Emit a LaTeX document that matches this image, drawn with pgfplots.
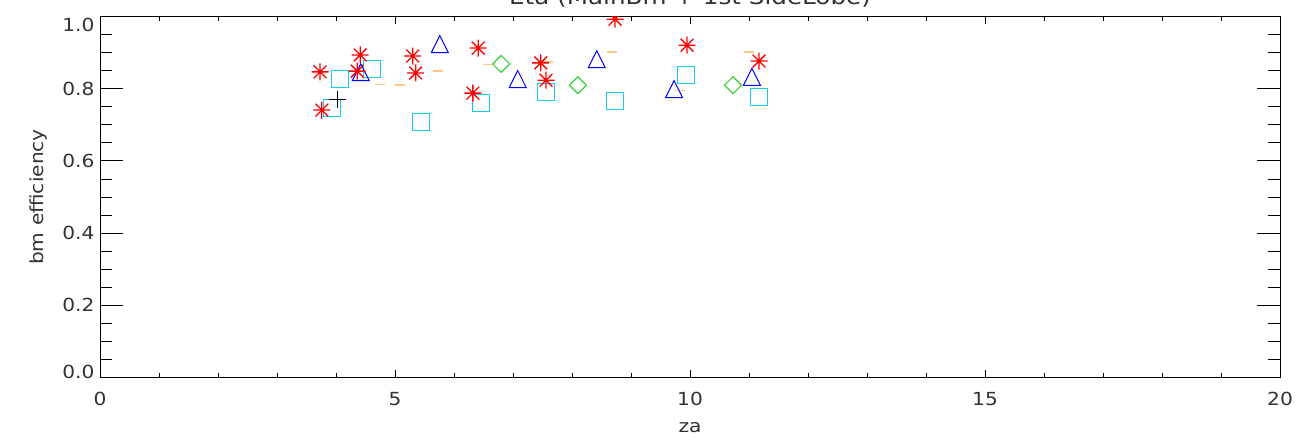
\documentclass[border=0pt]{standalone}
\usepackage{pgfplots}
\pgfplotsset{compat=1.18}
\usepackage{fontspec}
\setmainfont{DejaVu Sans}[FakeStretch=1.12]

\definecolor{idlred}{RGB}{255,0,0}
\definecolor{idlblue}{RGB}{0,0,255}
\definecolor{idlcyan}{RGB}{20,205,235}
\definecolor{idlgreen}{RGB}{30,205,30}
\definecolor{idlorange}{RGB}{255,200,130}
\definecolor{txt}{RGB}{50,50,50}

\pgfdeclareplotmark{idlstar}{%
  \pgfpathmoveto{\pgfqpoint{-\pgfplotmarksize}{0pt}}\pgfpathlineto{\pgfqpoint{\pgfplotmarksize}{0pt}}%
  \pgfpathmoveto{\pgfqpoint{0pt}{-\pgfplotmarksize}}\pgfpathlineto{\pgfqpoint{0pt}{\pgfplotmarksize}}%
  \pgfpathmoveto{\pgfqpoint{-0.75\pgfplotmarksize}{-0.75\pgfplotmarksize}}\pgfpathlineto{\pgfqpoint{0.75\pgfplotmarksize}{0.75\pgfplotmarksize}}%
  \pgfpathmoveto{\pgfqpoint{-0.75\pgfplotmarksize}{0.75\pgfplotmarksize}}\pgfpathlineto{\pgfqpoint{0.75\pgfplotmarksize}{-0.75\pgfplotmarksize}}%
  \pgfusepathqstroke}
\pgfdeclareplotmark{idltri}{%
  \pgfpathmoveto{\pgfqpoint{-\pgfplotmarksize}{-\pgfplotmarksize}}%
  \pgfpathlineto{\pgfqpoint{0pt}{\pgfplotmarksize}}%
  \pgfpathlineto{\pgfqpoint{\pgfplotmarksize}{-\pgfplotmarksize}}%
  \pgfpathclose\pgfusepathqstroke}
\pgfdeclareplotmark{idldia}{%
  \pgfpathmoveto{\pgfqpoint{-\pgfplotmarksize}{0pt}}%
  \pgfpathlineto{\pgfqpoint{0pt}{\pgfplotmarksize}}%
  \pgfpathlineto{\pgfqpoint{\pgfplotmarksize}{0pt}}%
  \pgfpathlineto{\pgfqpoint{0pt}{-\pgfplotmarksize}}%
  \pgfpathclose\pgfusepathqstroke}

\pgfplotsset{
  idlbase/.style={
    scale only axis, width=1180bp, height=360.6bp,
    xmin=0, xmax=20, ymin=0, ymax=1,
    tick align=inside,
    axis line style={black, line width=0.9bp},
    every tick/.style={black, line width=0.9bp},
    tick label style={font=\fontsize{18bp}{21bp}\selectfont, text=txt},
    label style={font=\fontsize{18bp}{21bp}\selectfont, text=txt},
    clip mode=individual,
    clip marker paths=true,
  }
}

\begin{document}
\begin{tikzpicture}
% axis carrying the y ticks
\begin{axis}[idlbase,
  xtick=\empty,
  ytick={0,0.2,0.4,0.6,0.8,1.0},
  yticklabels={\raisebox{5.6bp}[\height][\depth]{0.0},0.2,0.4,0.6,0.8,\raisebox{-8bp}[\height][\depth]{1.0}},
  minor y tick num=3,
  ytick pos=both, yticklabel pos=left,
  major tick length=23bp, minor tick length=12bp,
  yticklabel style={xshift=-2bp},
  ylabel={bm efficiency},
  ylabel style={at={(axis description cs:-0.0483,0.5)}, anchor=base, rotate=0},
]
\end{axis}
% axis carrying the x ticks and the data
\begin{axis}[idlbase, name=B,
  ytick=\empty,
  xtick={0,5,10,15,20},
  xticklabels={0,5,10,15,20},
  minor x tick num=4,
  xtick pos=both, xticklabel pos=bottom,
  major tick length=7bp, minor tick length=4bp,
  xticklabel style={yshift=-11.7bp},
  xlabel={za},
  xlabel style={at={(axis description cs:0.5,-0.1517)}, anchor=base},
  title={Eta (MainBm + 1st SideLobe)},
  title style={at={(axis description cs:0.5,1.0186)}, anchor=base,
    font=\fontsize{22bp}{26bp}\selectfont, text=txt},
]
\addplot[only marks, mark=-, mark size=5bp, idlorange, line width=1.5bp] table {
4.75 0.812
5.08 0.810
5.73 0.850
6.58 0.868
7.59 0.874
8.68 0.902
9.83 0.796
11.00 0.902
};
\addplot[only marks, mark=square, mark size=8.5bp, idlcyan, line width=1.1bp] table {
3.93 0.746
4.07 0.827
4.61 0.855
5.44 0.708
6.46 0.761
7.56 0.791
8.73 0.766
9.93 0.838
11.17 0.777
};
\addplot[only marks, mark=idltri, mark size=8.5bp, idlblue, line width=1bp] table {
4.42 0.846
5.76 0.924
7.08 0.827
8.42 0.882
9.73 0.799
11.05 0.833
};
\addplot[only marks, mark=idldia, mark size=8.5bp, idlgreen, line width=1bp] table {
6.80 0.869
8.10 0.810
10.73 0.810
};
\addplot[only marks, mark=+, mark size=8.5bp, black, line width=1bp] table {
4.03 0.769
};
\addplot[only marks, mark=idlstar, mark size=8.5bp, idlred, line width=1.3bp] table {
3.73 0.847
3.76 0.741
4.41 0.894
4.36 0.849
5.30 0.891
5.35 0.844
6.41 0.913
6.32 0.788
7.47 0.872
7.56 0.824
8.73 0.993
9.95 0.921
11.17 0.877
};
\end{axis}
\pgfresetboundingbox
\path[use as bounding box] ([xshift=-100bp,yshift=-66.7bp]B.south west) rectangle ([xshift=19bp,yshift=16.7bp]B.north east);
\end{tikzpicture}
\end{document}
